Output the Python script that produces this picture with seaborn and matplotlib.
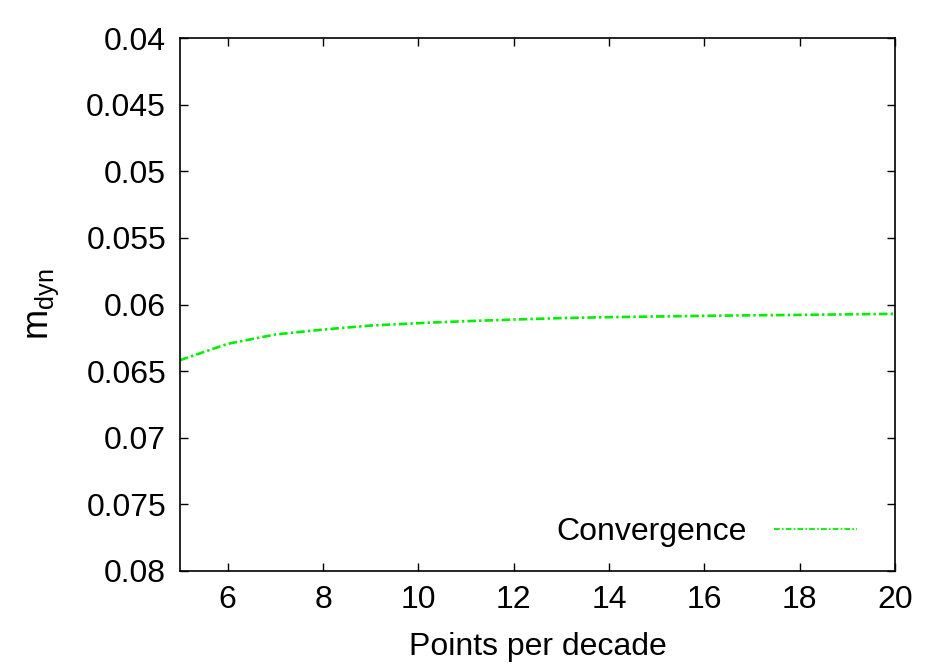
import matplotlib
matplotlib.use("Agg")
import matplotlib.pyplot as plt
import seaborn as sns
import pandas as pd

# Data
points_per_decade = [5, 6, 7, 8, 9, 10, 11, 12, 13, 14, 15, 16, 17, 18, 19, 20]
m_dyn = [0.06418, 0.06295, 0.06225, 0.06188, 0.06158, 0.06140, 0.06125, 0.06113,
         0.06102, 0.06095, 0.06090, 0.06085, 0.06081, 0.06078, 0.06074, 0.06070]
x_ticks = [6, 8, 10, 12, 14, 16, 18, 20]
y_ticks = [0.04, 0.045, 0.05, 0.055, 0.06, 0.065, 0.07, 0.075, 0.08]
y_tick_labels = ["0.04", "0.045", "0.05", "0.055", "0.06", "0.065", "0.07", "0.075", "0.08"]
series_name = "Convergence"

df = pd.DataFrame({"x": points_per_decade, "y": m_dyn})

sns.set_theme(style="white")
plt.rcParams["font.family"] = ["Liberation Sans", "DejaVu Sans"]
plt.rcParams["mathtext.fontset"] = "custom"
plt.rcParams["mathtext.rm"] = "Liberation Sans"
plt.rcParams["text.color"] = "black"

FS = 23

fig = plt.figure(figsize=(9.49, 6.64), dpi=100)
ax = fig.add_axes([180 / 949, 1 - 571 / 664, (895 - 180) / 949, (571 - 38) / 664])

sns.lineplot(data=df, x="x", y="y", ax=ax, color="#00ee00", linewidth=1.9,
             label=series_name)
ax.lines[0].set_linestyle((0, (3.2, 1.2, 0.9, 1.2)))

ax.set_xlim(5, 20)
ax.set_ylim(0.08, 0.04)
ax.set_xticks(x_ticks)
ax.set_xticklabels([str(t) for t in x_ticks])
ax.set_yticks(y_ticks)
ax.set_yticklabels(y_tick_labels)

ax.tick_params(axis="both", which="major", direction="in", length=6, width=1,
               labelsize=FS, colors="black", top=True, right=True,
               left=True, bottom=True, pad=10)
ax.tick_params(axis="y", pad=10)
for s in ax.spines.values():
    s.set_color("black")
    s.set_linewidth(1.2)

ax.set_xlabel("Points per decade", fontsize=FS, color="black", labelpad=12.5)
ax.set_ylabel(r"$\mathregular{m_{dyn}}$", fontsize=FS + 3, color="black", labelpad=18)

leg = ax.legend(loc="lower right", frameon=False, fontsize=FS, markerfirst=False,
                handlelength=2.6, handletextpad=0.85, borderaxespad=0.0,
                bbox_to_anchor=(0.965, 0.021))
for t in leg.get_texts():
    t.set_color("black")
for h in leg.get_lines():
    h.set_linewidth(1.3)

fig.savefig("out.png", dpi=100)
